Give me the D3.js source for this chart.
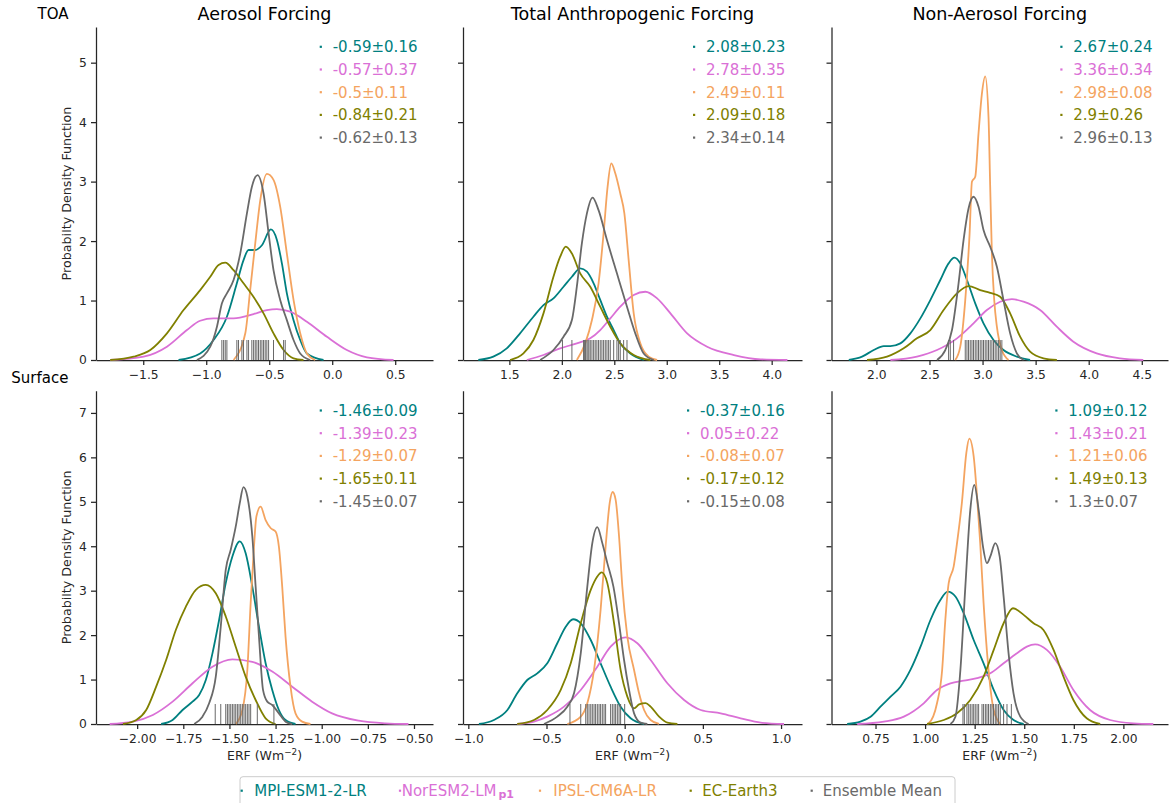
<!DOCTYPE html>
<html><head><meta charset="utf-8">
<script src="https://cdn.jsdelivr.net/npm/d3@7"></script>
<style>body{margin:0;background:#fff} svg text{font-family:"DejaVu Sans",sans-serif}</style>
</head><body><svg id="c" width="1170" height="803"></svg>
<script>
// ---------- categories / colours ----------
const models = ["MPI-ESM1-2-LR", "NorESM2-LM", "IPSL-CM6A-LR", "EC-Earth3", "Ensemble Mean"];
const modelColors = ["#008080", "#da70d6", "#f4a460", "#808000", "#696969"];
const panelTitles = ["Aerosol Forcing", "Total Anthropogenic Forcing", "Non-Aerosol Forcing"];
const rowLabels = ["TOA", "Surface"];

// ---------- tick labels ----------
const toaYTicks = [0, 1, 2, 3, 4, 5];
const sfcYTicks = [0, 1, 2, 3, 4, 5, 6, 7];
const toaAerXTicks = [-1.5, -1.0, -0.5, 0.0, 0.5];
const toaTotXTicks = [1.5, 2.0, 2.5, 3.0, 3.5, 4.0];
const toaNonXTicks = [2.0, 2.5, 3.0, 3.5, 4.0, 4.5];
const sfcAerXTicks = [-2.0, -1.75, -1.5, -1.25, -1.0, -0.75, -0.5];
const sfcTotXTicks = [-1.0, -0.5, 0.0, 0.5, 1.0];
const sfcNonXTicks = [0.75, 1.0, 1.25, 1.5, 1.75, 2.0];

// ---------- legend statistics ----------
const toaAerStats = ["-0.59±0.16", "-0.57±0.37", "-0.5±0.11", "-0.84±0.21", "-0.62±0.13"];
const toaTotStats = ["2.08±0.23", "2.78±0.35", "2.49±0.11", "2.09±0.18", "2.34±0.14"];
const toaNonStats = ["2.67±0.24", "3.36±0.34", "2.98±0.08", "2.9±0.26", "2.96±0.13"];
const sfcAerStats = ["-1.46±0.09", "-1.39±0.23", "-1.29±0.07", "-1.65±0.11", "-1.45±0.07"];
const sfcTotStats = ["-0.37±0.16", "0.05±0.22", "-0.08±0.07", "-0.17±0.12", "-0.15±0.08"];
const sfcNonStats = ["1.09±0.12", "1.43±0.21", "1.21±0.06", "1.49±0.13", "1.3±0.07"];

// ---------- density curves [ERF, pdf] ----------
// TOA aerosol
const toaAerMPI = [[-1.22,0],[-1.048,0.11],[-0.942,0.336],[-0.836,0.728],[-0.757,1.29],[-0.704,1.68],[-0.664,1.85],[-0.611,1.85],[-0.558,1.93],[-0.487,2.196],[-0.439,2.02],[-0.399,1.62],[-0.36,1.12],[-0.307,0.67],[-0.254,0.336],[-0.201,0.11],[-0.069,0]];
const toaAerNor = [[-1.762,0],[-1.497,0.056],[-1.312,0.224],[-1.153,0.504],[-1.048,0.66],[-0.942,0.70],[-0.783,0.70],[-0.624,0.773],[-0.519,0.84],[-0.439,0.857],[-0.333,0.812],[-0.201,0.644],[-0.042,0.39],[0.116,0.168],[0.275,0.045],[0.487,0]];
const toaAerIPSL = [[-0.783,0],[-0.69,0.45],[-0.651,1.18],[-0.611,1.96],[-0.571,2.69],[-0.519,3.13],[-0.466,3.03],[-0.413,2.58],[-0.36,1.79],[-0.307,1.01],[-0.254,0.45],[-0.201,0.11],[-0.135,0]];
const toaAerEC = [[-1.762,0],[-1.577,0.056],[-1.444,0.168],[-1.312,0.448],[-1.18,0.84],[-1.048,1.176],[-0.968,1.40],[-0.902,1.597],[-0.849,1.636],[-0.783,1.51],[-0.704,1.29],[-0.624,1.06],[-0.545,0.784],[-0.466,0.448],[-0.386,0.168],[-0.307,0.028],[-0.228,0]];
const toaAerEns = [[-1.074,0],[-0.968,0.224],[-0.915,0.56],[-0.876,0.95],[-0.836,1.12],[-0.783,1.345],[-0.730,1.79],[-0.677,2.465],[-0.638,2.91],[-0.593,3.11],[-0.545,2.8],[-0.505,2.13],[-0.466,1.51],[-0.413,1.01],[-0.36,0.67],[-0.307,0.336],[-0.254,0.11],[-0.175,0]];
// TOA total anthropogenic
const toaTotMPI = [[1.204,0],[1.347,0.056],[1.475,0.196],[1.602,0.448],[1.729,0.728],[1.825,0.924],[1.92,1.036],[2.016,1.232],[2.096,1.40],[2.175,1.54],[2.239,1.485],[2.303,1.29],[2.366,1.01],[2.43,0.728],[2.494,0.504],[2.557,0.28],[2.653,0.11],[2.78,0]];
const toaTotNor = [[1.666,0],[1.825,0.084],[1.984,0.196],[2.143,0.28],[2.271,0.364],[2.366,0.504],[2.462,0.70],[2.557,0.896],[2.685,1.092],[2.796,1.148],[2.908,1.036],[3.035,0.784],[3.194,0.448],[3.385,0.224],[3.64,0.084],[3.895,0.011],[4.15,0]];
const toaTotIPSL = [[2.143,0],[2.223,0.28],[2.287,0.672],[2.35,1.29],[2.398,2.13],[2.436,2.91],[2.471,3.305],[2.51,3.137],[2.557,2.80],[2.596,2.465],[2.637,1.68],[2.685,0.784],[2.748,0.28],[2.828,0.056],[2.908,0]];
const toaTotEC = [[1.506,0],[1.634,0.11],[1.729,0.336],[1.825,0.784],[1.92,1.40],[1.984,1.737],[2.038,1.905],[2.096,1.79],[2.175,1.457],[2.271,1.232],[2.366,0.896],[2.462,0.56],[2.557,0.28],[2.685,0.084],[2.844,0]];
const toaTotEns = [[1.793,0],[1.92,0.168],[2.016,0.392],[2.096,0.672],[2.143,1.232],[2.191,1.96],[2.239,2.465],[2.293,2.73],[2.35,2.52],[2.43,2.017],[2.525,1.457],[2.621,0.896],[2.70,0.448],[2.78,0.11],[2.876,0]];
// TOA non-aerosol
const toaNonMPI = [[1.74,0],[1.865,0.056],[1.975,0.168],[2.069,0.235],[2.132,0.235],[2.226,0.28],[2.32,0.448],[2.414,0.70],[2.508,1.008],[2.602,1.345],[2.68,1.625],[2.734,1.72],[2.79,1.625],[2.853,1.345],[2.931,0.952],[3.009,0.616],[3.103,0.336],[3.197,0.168],[3.323,0.056],[3.448,0]];
const toaNonNor = [[2.132,0],[2.382,0.056],[2.571,0.168],[2.759,0.364],[2.915,0.616],[3.041,0.84],[3.166,0.98],[3.276,1.025],[3.386,0.98],[3.542,0.84],[3.699,0.56],[3.856,0.308],[4.075,0.112],[4.295,0.028],[4.514,0]];
const toaNonIPSL = [[2.743,0],[2.79,0.224],[2.837,1.008],[2.878,2.129],[2.9,2.997],[2.931,3.081],[2.962,3.81],[2.994,4.48],[3.025,4.77],[3.056,4.09],[3.072,2.91],[3.088,1.79],[3.11,1.008],[3.135,0.56],[3.182,0.168],[3.245,0]];
const toaNonEC = [[1.912,0],[2.1,0.056],[2.257,0.196],[2.382,0.364],[2.508,0.504],[2.633,0.84],[2.759,1.12],[2.868,1.244],[2.978,1.176],[3.072,1.13],[3.166,1.064],[3.26,0.784],[3.354,0.392],[3.448,0.14],[3.574,0.028],[3.70,0]];
const toaNonEns = [[2.571,0],[2.649,0.168],[2.712,0.504],[2.774,1.289],[2.821,2.017],[2.868,2.549],[2.915,2.745],[2.962,2.577],[3.009,2.185],[3.072,1.905],[3.135,1.569],[3.197,1.008],[3.26,0.448],[3.323,0.112],[3.386,0]];
// Surface aerosol
const sfcAerMPI = [[-1.87,0],[-1.808,0.09],[-1.754,0.315],[-1.70,0.503],[-1.664,0.653],[-1.628,0.99],[-1.592,1.59],[-1.556,2.34],[-1.52,3.17],[-1.484,3.77],[-1.444,4.11],[-1.412,3.84],[-1.376,3.09],[-1.34,2.19],[-1.304,1.366],[-1.268,0.766],[-1.232,0.315],[-1.196,0.09],[-1.142,0]];
const sfcAerNor = [[-2.149,0],[-2.023,0.053],[-1.915,0.203],[-1.808,0.503],[-1.70,0.916],[-1.592,1.29],[-1.484,1.456],[-1.376,1.40],[-1.268,1.18],[-1.16,0.84],[-1.052,0.503],[-0.944,0.24],[-0.80,0.075],[-0.656,0.015],[-0.53,0]];
const sfcAerIPSL = [[-1.466,0],[-1.43,0.315],[-1.403,1.216],[-1.385,2.72],[-1.367,3.99],[-1.354,4.67],[-1.331,4.89],[-1.304,4.59],[-1.277,4.41],[-1.25,4.33],[-1.232,3.99],[-1.214,3.09],[-1.196,1.967],[-1.169,0.84],[-1.142,0.24],[-1.106,0.053],[-1.061,0]];
const sfcAerEC = [[-2.077,0],[-2.005,0.09],[-1.951,0.315],[-1.897,0.84],[-1.843,1.44],[-1.79,2.12],[-1.736,2.64],[-1.682,3.02],[-1.628,3.13],[-1.574,2.94],[-1.52,2.42],[-1.466,1.74],[-1.412,1.066],[-1.358,0.54],[-1.304,0.128],[-1.25,0]];
const sfcAerEns = [[-1.691,0],[-1.646,0.165],[-1.61,0.465],[-1.574,1.066],[-1.547,2.19],[-1.52,3.47],[-1.493,3.92],[-1.466,4.44],[-1.444,4.97],[-1.424,5.33],[-1.403,5.12],[-1.376,4.22],[-1.358,3.09],[-1.34,1.97],[-1.318,0.766],[-1.295,0.503],[-1.268,0.428],[-1.232,0.24],[-1.196,0.053],[-1.16,0]];
// Surface total anthropogenic
const sfcTotMPI = [[-0.932,0],[-0.836,0.09],[-0.75,0.315],[-0.687,0.69],[-0.623,0.99],[-0.559,1.14],[-0.495,1.366],[-0.431,1.817],[-0.377,2.19],[-0.33,2.357],[-0.281,2.267],[-0.217,1.89],[-0.154,1.366],[-0.09,0.84],[-0.026,0.39],[0.038,0.128],[0.124,0]];
const sfcTotNor = [[-0.687,0],[-0.58,0.053],[-0.495,0.165],[-0.388,0.39],[-0.281,0.766],[-0.175,1.29],[-0.09,1.74],[0.006,1.95],[0.081,1.817],[0.166,1.44],[0.273,0.916],[0.38,0.54],[0.486,0.315],[0.614,0.24],[0.742,0.128],[0.87,0.03],[1.019,0]];
const sfcTotIPSL = [[-0.367,0],[-0.281,0.165],[-0.239,0.465],[-0.196,1.216],[-0.154,2.567],[-0.122,3.99],[-0.096,4.97],[-0.077,5.22],[-0.058,5.05],[-0.036,4.22],[-0.015,3.09],[0.017,1.967],[0.06,1.216],[0.092,0.69],[0.124,0.315],[0.166,0.09],[0.22,0]];
const sfcTotEC = [[-0.687,0],[-0.58,0.09],[-0.495,0.315],[-0.409,0.766],[-0.345,1.366],[-0.281,2.267],[-0.217,3.018],[-0.175,3.32],[-0.147,3.41],[-0.111,3.17],[-0.068,2.267],[-0.026,1.216],[0.017,0.616],[0.06,0.353],[0.092,0.44],[0.134,0.47],[0.166,0.39],[0.22,0.165],[0.273,0.03],[0.337,0]];
const sfcTotEns = [[-0.516,0],[-0.431,0.165],[-0.367,0.39],[-0.324,0.69],[-0.281,1.59],[-0.239,3.09],[-0.207,4.07],[-0.175,4.43],[-0.143,4.07],[-0.111,3.62],[-0.072,3.09],[-0.036,2.267],[-0.004,1.44],[0.028,0.766],[0.06,0.24],[0.102,0.03],[0.145,0]];
// Surface non-aerosol
const sfcNonMPI = [[0.607,0],[0.674,0.053],[0.725,0.165],[0.775,0.39],[0.826,0.616],[0.876,0.84],[0.926,1.216],[0.977,1.74],[1.027,2.34],[1.077,2.79],[1.114,2.98],[1.153,2.87],[1.195,2.49],[1.245,1.89],[1.295,1.366],[1.346,0.766],[1.396,0.315],[1.446,0.09],[1.497,0]];
const sfcNonNor = [[0.658,0],[0.792,0.053],[0.893,0.165],[0.993,0.465],[1.06,0.766],[1.128,0.916],[1.195,0.976],[1.262,1.03],[1.329,1.14],[1.396,1.366],[1.463,1.59],[1.513,1.74],[1.555,1.79],[1.614,1.667],[1.681,1.29],[1.748,0.766],[1.832,0.315],[1.933,0.09],[2.05,0.015],[2.151,0]];
const sfcNonIPSL = [[1.01,0],[1.018,0.015],[1.06,0.466],[1.086,1.216],[1.102,2.34],[1.119,3.17],[1.144,3.54],[1.161,4.07],[1.186,5.0],[1.208,6.10],[1.223,6.42],[1.245,6.02],[1.262,5.12],[1.278,4.07],[1.295,2.72],[1.32,1.216],[1.346,0.316],[1.379,0]];
const sfcNonEC = [[1.01,0],[1.094,0.09],[1.161,0.24],[1.228,0.54],[1.295,1.066],[1.346,1.667],[1.396,2.267],[1.443,2.605],[1.497,2.455],[1.547,2.267],[1.597,2.117],[1.648,1.667],[1.698,1.066],[1.748,0.54],[1.815,0.128],[1.883,0]];
const sfcNonEns = [[1.128,0],[1.153,0.165],[1.178,1.216],[1.203,3.09],[1.228,4.82],[1.248,5.38],[1.27,4.82],[1.292,3.99],[1.312,3.62],[1.329,3.77],[1.354,4.07],[1.376,3.77],[1.396,2.87],[1.421,1.59],[1.446,0.69],[1.48,0.165],[1.522,0]];

// ---------- ensemble-mean rug values ----------
const toaAerRug = [-0.876,-0.862,-0.849,-0.836,-0.757,-0.744,-0.717,-0.704,-0.677,-0.664,-0.638,-0.624,-0.611,-0.598,-0.585,-0.571,-0.558,-0.545,-0.532,-0.519,-0.505,-0.466,-0.386,-0.373];
const toaTotRug = [2.006,2.096,2.207,2.217,2.226,2.239,2.249,2.258,2.271,2.287,2.303,2.318,2.334,2.35,2.366,2.382,2.398,2.414,2.43,2.446,2.462,2.494,2.525,2.541,2.557,2.589,2.621];
const toaNonRug = [2.68,2.696,2.727,2.837,2.853,2.868,2.884,2.9,2.915,2.931,2.947,2.962,2.978,2.994,3.009,3.025,3.041,3.056,3.072,3.088,3.103,3.119,3.135,3.151,3.166,3.182];
const sfcAerRug = [-1.577,-1.547,-1.52,-1.511,-1.502,-1.493,-1.484,-1.475,-1.466,-1.457,-1.448,-1.439,-1.43,-1.421,-1.412,-1.403,-1.394,-1.385,-1.349,-1.259];
const sfcTotRug = [-0.35,-0.281,-0.249,-0.239,-0.228,-0.217,-0.207,-0.196,-0.186,-0.175,-0.164,-0.154,-0.143,-0.132,-0.122,-0.09,-0.079,-0.068,-0.058,-0.047,-0.036,-0.026,0.0];
const sfcNonRug = [1.191,1.198,1.211,1.22,1.228,1.237,1.245,1.253,1.262,1.27,1.287,1.295,1.304,1.312,1.32,1.329,1.337,1.345,1.354,1.362,1.37,1.379,1.396,1.413,1.435];

// ---------- layout ----------
const svg = d3.select("#c");
svg.append("rect").attr("width", 1170).attr("height", 803).attr("fill", "#fff");
const ink = "#262626";
const colX = [[96, 433], [463, 802], [831.5, 1168]];
const rowY = [[360, 27], [724, 390.7]];
const yDomains = [[0, 5.6], [0, 7.5]];
const yTicksByRow = [toaYTicks, sfcYTicks];

const panels = [
  {r:0, c:0, xdom:[-1.875, 0.8], ticks:toaAerXTicks, fmt:".1f", curves:[toaAerMPI,toaAerNor,toaAerIPSL,toaAerEC,toaAerEns], rug:toaAerRug, stats:toaAerStats, tx:332.7},
  {r:0, c:1, xdom:[1.058, 4.289], ticks:toaTotXTicks, fmt:".1f", curves:[toaTotMPI,toaTotNor,toaTotIPSL,toaTotEC,toaTotEns], rug:toaTotRug, stats:toaTotStats, tx:706},
  {r:0, c:2, xdom:[1.577, 4.747], ticks:toaNonXTicks, fmt:".1f", curves:[toaNonMPI,toaNonNor,toaNonIPSL,toaNonEC,toaNonEns], rug:toaNonRug, stats:toaNonStats, tx:1073.3},
  {r:1, c:0, xdom:[-2.223, -0.397], ticks:sfcAerXTicks, fmt:".2f", curves:[sfcAerMPI,sfcAerNor,sfcAerIPSL,sfcAerEC,sfcAerEns], rug:sfcAerRug, stats:sfcAerStats, tx:332.7},
  {r:1, c:1, xdom:[-1.034, 1.134], ticks:sfcTotXTicks, fmt:".1f", curves:[sfcTotMPI,sfcTotNor,sfcTotIPSL,sfcTotEC,sfcTotEns], rug:sfcTotRug, stats:sfcTotStats, tx:700},
  {r:1, c:2, xdom:[0.528, 2.225], ticks:sfcNonXTicks, fmt:".2f", curves:[sfcNonMPI,sfcNonNor,sfcNonIPSL,sfcNonEC,sfcNonEns], rug:sfcNonRug, stats:sfcNonStats, tx:1068.3}
];

panels.forEach(p => {
  const x = d3.scaleLinear().domain(p.xdom).range(colX[p.c]);
  const y = d3.scaleLinear().domain(yDomains[p.r]).range(rowY[p.r]);
  const g = svg.append("g");

  const xa = g.append("g").attr("transform", `translate(0,${rowY[p.r][0]})`)
    .call(d3.axisBottom(x).tickValues(p.ticks).tickFormat(d3.format(p.fmt)).tickSize(5).tickSizeOuter(0).tickPadding(5.5));
  const ya = g.append("g").attr("transform", `translate(${colX[p.c][0]},0)`)
    .call(d3.axisLeft(y).tickValues(yTicksByRow[p.r]).tickFormat(p.c === 0 ? d3.format("d") : () => "").tickSize(5).tickSizeOuter(0).tickPadding(4.3));
  [xa, ya].forEach(a => {
    a.select(".domain").attr("stroke", ink).attr("stroke-width", 1.25);
    a.selectAll(".tick line").attr("stroke", ink).attr("stroke-width", 1.25);
    a.selectAll(".tick text").attr("fill", ink).style("font-size", "12.3px").style("font-family", "DejaVu Sans");
  });

  const line = d3.line().x(d => x(d[0])).y(d => y(d[1])).curve(d3.curveMonotoneX);
  p.curves.forEach((cv, i) => {
    g.append("path").datum(cv).attr("d", line).attr("fill", "none")
      .attr("stroke", modelColors[i]).attr("stroke-width", 1.8).attr("stroke-linejoin", "round");
  });

  const y0 = y(0);
  g.append("g").selectAll("line").data(p.rug).join("line")
    .attr("x1", d => x(d)).attr("x2", d => x(d))
    .attr("y1", y0).attr("y2", y0 - 20)
    .attr("stroke", "#696969").attr("stroke-width", 1);

  const top = rowY[p.r][1];
  p.stats.forEach((s, i) => {
    const cy = top + 19.8 + i * 22.7;
    g.append("rect").attr("x", p.tx - 13).attr("y", cy - 1.1).attr("width", 2.2).attr("height", 2.2).attr("fill", modelColors[i]);
    g.append("text").attr("x", p.tx).attr("y", cy + 5.5).attr("fill", modelColors[i])
      .style("font-size", "15px").text(s);
  });

  if (p.r === 0) {
    svg.append("text").attr("x", (colX[p.c][0] + colX[p.c][1]) / 2).attr("y", 19.5)
      .attr("text-anchor", "middle").attr("fill", "#000").style("font-size", "17.5px").text(panelTitles[p.c]);
  }
  if (p.c === 0) {
    const mid = (rowY[p.r][0] + rowY[p.r][1]) / 2;
    svg.append("text").attr("transform", `translate(70.5,${mid}) rotate(-90)`)
      .attr("text-anchor", "middle").attr("fill", ink).style("font-size", "12.7px").text("Probabilty Density Function");
  }
  if (p.r === 1) {
    const t = svg.append("text").attr("x", (colX[p.c][0] + colX[p.c][1]) / 2).attr("y", 760)
      .attr("text-anchor", "middle").attr("fill", ink).style("font-size", "12.5px");
    t.append("tspan").text("ERF (Wm");
    t.append("tspan").attr("dy", -5).style("font-size", "8.8px").text("−2");
    t.append("tspan").attr("dy", 5).text(")");
  }
});

// row labels
svg.append("text").attr("x", 68.5).attr("y", 19).attr("text-anchor", "end").style("font-size", "15px").attr("fill", "#000").text(rowLabels[0]);
svg.append("text").attr("x", 68.5).attr("y", 383).attr("text-anchor", "end").style("font-size", "15px").attr("fill", "#000").text(rowLabels[1]);

// bottom legend
svg.append("rect").attr("x", 240).attr("y", 776.7).attr("width", 715).attr("height", 40).attr("rx", 3)
  .attr("fill", "#fff").attr("stroke", "#cccccc").attr("stroke-width", 1);
const legDotX = [241.7, 400, 540, 690.7, 811.7];
const legTextX = [254.3, 401.7, 553.3, 702.3, 822.7];
models.forEach((m, i) => {
  svg.append("rect").attr("x", legDotX[i] - 1.1).attr("y", 790.7 - 1.1).attr("width", 2.2).attr("height", 2.2).attr("fill", modelColors[i]);
  const t = svg.append("text").attr("x", legTextX[i]).attr("y", 796.2).attr("fill", modelColors[i]).style("font-size", "15px");
  t.append("tspan").text(m);
  if (i === 1) {
    t.append("tspan").attr("dx", 2).attr("dy", 1.5).style("font-size", "11px").style("font-weight", "bold").text("p1");
  }
});
</script></body></html>
